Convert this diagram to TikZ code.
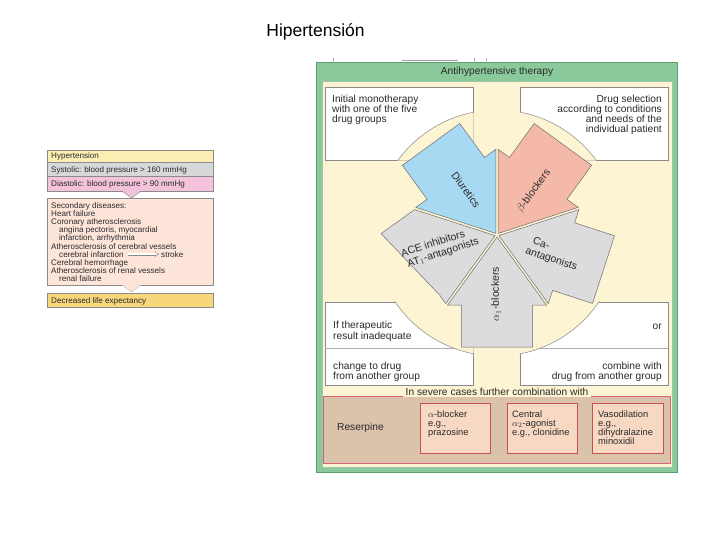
\documentclass[tikz,border=0pt]{standalone}
\usepackage{fontspec}
\setmainfont{Liberation Sans}
\usetikzlibrary{arrows.meta}
\definecolor{cream}{HTML}{FCF4D2}
\definecolor{greenF}{HTML}{89C99A}
\definecolor{greenD}{HTML}{5E9E6E}
\definecolor{blueA}{HTML}{A8D9F3}
\definecolor{pinkA}{HTML}{F4B9A9}
\definecolor{greyA}{HTML}{DCDCDE}
\definecolor{brownB}{HTML}{DBC2AA}
\definecolor{redB}{HTML}{D9617A}
\definecolor{salmonB}{HTML}{F7D8C2}
\definecolor{boxred}{HTML}{C8504F}
\definecolor{hyY}{HTML}{FCEFB4}
\definecolor{sysG}{HTML}{D7D8DA}
\definecolor{diaP}{HTML}{F2C3DA}
\definecolor{secS}{HTML}{FDE5DA}
\definecolor{decY}{HTML}{F8D67C}
\definecolor{txt}{HTML}{2A2A2A}
\definecolor{edge}{HTML}{8A8A8A}
\definecolor{wline}{HTML}{6E6E6E}
\begin{document}
\begin{tikzpicture}[x=1pt,y=-1pt,
  lt/.style={font=\fontsize{8.1}{8.2}\selectfont, text=txt, inner sep=0pt, anchor=base west},
  rt/.style={font=\fontsize{10.2}{10}\selectfont, text=txt, inner sep=0pt, anchor=base west},
  rtr/.style={rt, anchor=base east},
  bt/.style={font=\fontsize{9.3}{9}\selectfont, text=txt, inner sep=0pt, anchor=base west},
  arrtxt/.style={font=\fontsize{10.5}{11.5}\selectfont, text=txt, inner sep=0pt, align=left, anchor=center},
  wshape/.style={draw=wline, line width=0.5pt, line join=miter},
  wbox/.style={fill=white, draw=edge, line width=0.5pt},
  lrow/.style={draw=edge, line width=0.5pt},
  inbox/.style={fill=salmonB, draw=boxred, line width=0.6pt},
]
\useasboundingbox (0,0) rectangle (720,540);
\fill[white] (0,0) rectangle (720,540);

% page title
\node[font=\fontsize{17.5}{20}\selectfont, anchor=base, inner sep=0pt] (title) at (315.5,36.5) {Hipertensión};

% ---------------- left panel ----------------
\draw[lrow, fill=hyY] (47,150) rectangle (213,162);
\draw[lrow, fill=sysG] (47,162) rectangle (213,176.5);
\draw[lrow, fill=diaP] (47,176.5) rectangle (213,191);
\draw[lrow, fill=secS] (47,198) rectangle (213,285);
\fill[diaP] (122,190.7) -- (131.5,198) -- (141,190.7) -- cycle;
\draw[edge, line width=0.5pt] (122,191) -- (131.5,198) -- (141,191);
\fill[secS] (122,284.7) -- (131.5,292) -- (141,284.7) -- cycle;
\draw[edge!60, line width=0.4pt] (122,285) -- (131.5,292) -- (141,285);
\draw[lrow, fill=decY] (47,293) rectangle (213,307);

\node[lt] (hyp) at (51,159) {Hypertension};
\node[lt] (sys) at (51,172.3) {Systolic: blood pressure > 160 mmHg};
\node[lt] (dia) at (51,187) {Diastolic: blood pressure > 90 mmHg};
\node[lt] (s1) at (51,208) {Secondary diseases:};
\node[lt] (s2) at (51,216.2) {Heart failure};
\node[lt] (s3) at (51,224.4) {Coronary atherosclerosis};
\node[lt] (s4) at (59,232.6) {angina pectoris, myocardial};
\node[lt] (s5) at (59,240.8) {infarction, arrhythmia};
\node[lt] (s6) at (51,249) {Atherosclerosis of cerebral vessels};
\node[lt] (s7) at (59,257.2) {cerebral infarction};
\node[lt] (s8) at (161,257.2) {stroke};
\node[lt] (s9) at (51,265.4) {Cerebral hemorrhage};
\node[lt] (s10) at (51,273.6) {Atherosclerosis of renal vessels};
\node[lt] (s11) at (59,281.8) {renal failure};
\node[lt] (dec) at (51,303) {Decreased life expectancy};
\draw[edge, line width=0.4pt, double equal sign distance, -{Implies}, shorten <=4pt, shorten >=2pt] (s7.east) -- (s8.west);

% ---------------- right panel ----------------
\draw[edge!80, line width=0.4pt] (402,60.5) -- (458,60.5);
\draw[edge!80, line width=0.4pt] (333,58.5) -- (333,61.5) (474,58) -- (474,61.5) (486,58) -- (486,61.5);
\draw[greenD, fill=greenF, line width=0.6pt] (316.5,62) rectangle (677.5,472.5);
\draw[fill=cream, draw=greenD!60, line width=0.4pt] (322.5,81.5) rectangle (672.5,467);
\node[rt, anchor=base] (anti) at (497,74.5) {Antihypertensive therapy};

% white boxes
\draw[wbox] (325,87) rectangle (473,160);
\draw[wbox] (520,87) rectangle (668,160);
\draw[wbox] (325,302) rectangle (473,385);
\draw[wbox] (520,302) rectangle (668,385);
\draw[edge!70, line width=0.5pt] (325,348) -- (473,348);
\draw[edge!70, line width=0.5pt] (520,348) -- (668,348);

% circle cut into boxes
\begin{scope}
\clip (324.4,86.4) rectangle (473.6,160.6) (519.4,86.4) rectangle (668.6,160.6)
      (324.4,301.4) rectangle (473.6,385.6) (519.4,301.4) rectangle (668.6,385.6);
\filldraw[fill=cream, draw=edge, line width=0.5pt] (497,233) circle[radius=123pt];
\end{scope}

% box texts
\node[rt] (tl1) at (332,102.5) {Initial monotherapy};
\node[rt] (tl2) at (332,112.5) {with one of the five};
\node[rt] (tl3) at (332,122.5) {drug groups};
\node[rtr] (tr1) at (662,102.5) {Drug selection};
\node[rtr] (tr2) at (662,112.5) {according to conditions};
\node[rtr] (tr3) at (662,122.5) {and needs of the};
\node[rtr] (tr4) at (662,132.5) {individual patient};
\node[rt] (bl1) at (333,328.5) {If therapeutic};
\node[rt] (bl2) at (333,339) {result inadequate};
\node[rt] (bl3) at (333,369) {change to drug};
\node[rt] (bl4) at (333,379) {from another group};
\node[rtr] (br1) at (662,329) {or};
\node[rtr] (br2) at (662,369) {combine with};
\node[rtr] (br3) at (662,379) {drug from another group};

% five drug-group arrows
\filldraw[wshape, fill=blueA] (495.8,233.4) -- (495.8,149.4) -- (484.5,157.5) -- (459.8,123.5)
   -- (402.4,165.3) -- (427.1,199.3) -- (415.8,207.4) -- cycle;
\filldraw[wshape, fill=pinkA] (498.2,233.4) -- (498.2,149.4) -- (509.5,157.5) -- (534.2,123.5)
   -- (591.6,165.3) -- (566.9,199.3) -- (578.2,207.4) -- cycle;
\filldraw[wshape, fill=greyA] (498.9,235.6) -- (578.9,209.6) -- (574.6,222.8) -- (614.5,235.8)
   -- (592.5,303.4) -- (552.6,290.4) -- (548.3,303.6) -- cycle;
\filldraw[wshape, fill=greyA] (497,237) -- (546.4,305) -- (532.5,305) -- (532.5,347)
   -- (461.5,347) -- (461.5,305) -- (447.6,305) -- cycle;
\filldraw[wshape, fill=greyA] (495.1,235.6) -- (445.7,303.6) -- (439.6,295) -- (381.1,233.6)
   -- (414.6,209.6) -- cycle;

\node[arrtxt, rotate=-54] (diu) at (466,190) {Diuretics};
\node[arrtxt, rotate=54] (beta) at (534,191) {$\beta$-blockers};
\node[arrtxt, rotate=18] (ace) at (440,248) {ACE inhibitors\\\hspace*{3pt}AT$_1$-antagonists};
\node[arrtxt, rotate=-18] (ca) at (553,254) {\hspace*{4pt}Ca-\\antagonists};
\node[arrtxt, rotate=90] (alpha) at (496,294) {$\alpha_1$-blockers};

% severe cases section
\draw[fill=brownB, draw=redB, line width=0.6pt] (323.5,396.5) rectangle (670.5,463);
\node[rt, anchor=center, fill=cream, inner xsep=3pt, inner ysep=1pt] (sev) at (497,392) {In severe cases further combination with};
\node[rt] (res) at (337,430.5) {Reserpine};
\draw[inbox] (420,403) rectangle (490,453);
\draw[inbox] (507,403) rectangle (577,453);
\draw[inbox] (592,403) rectangle (663,453);
\node[bt] (a1) at (428,417) {$\alpha$-blocker};
\node[bt] (a2) at (428,426) {e.g.,};
\node[bt] (a3) at (428,435) {prazosine};
\node[bt] (c1) at (512,417) {Central};
\node[bt] (c2) at (512,426) {$\alpha_2$-agonist};
\node[bt] (c3) at (512,435) {e.g., clonidine};
\node[bt] (v1) at (598,417) {Vasodilation};
\node[bt] (v2) at (598,426) {e.g.,};
\node[bt] (v3) at (598,435) {dihydralazine};
\node[bt] (v4) at (598,444) {minoxidil};
\end{tikzpicture}
\end{document}
